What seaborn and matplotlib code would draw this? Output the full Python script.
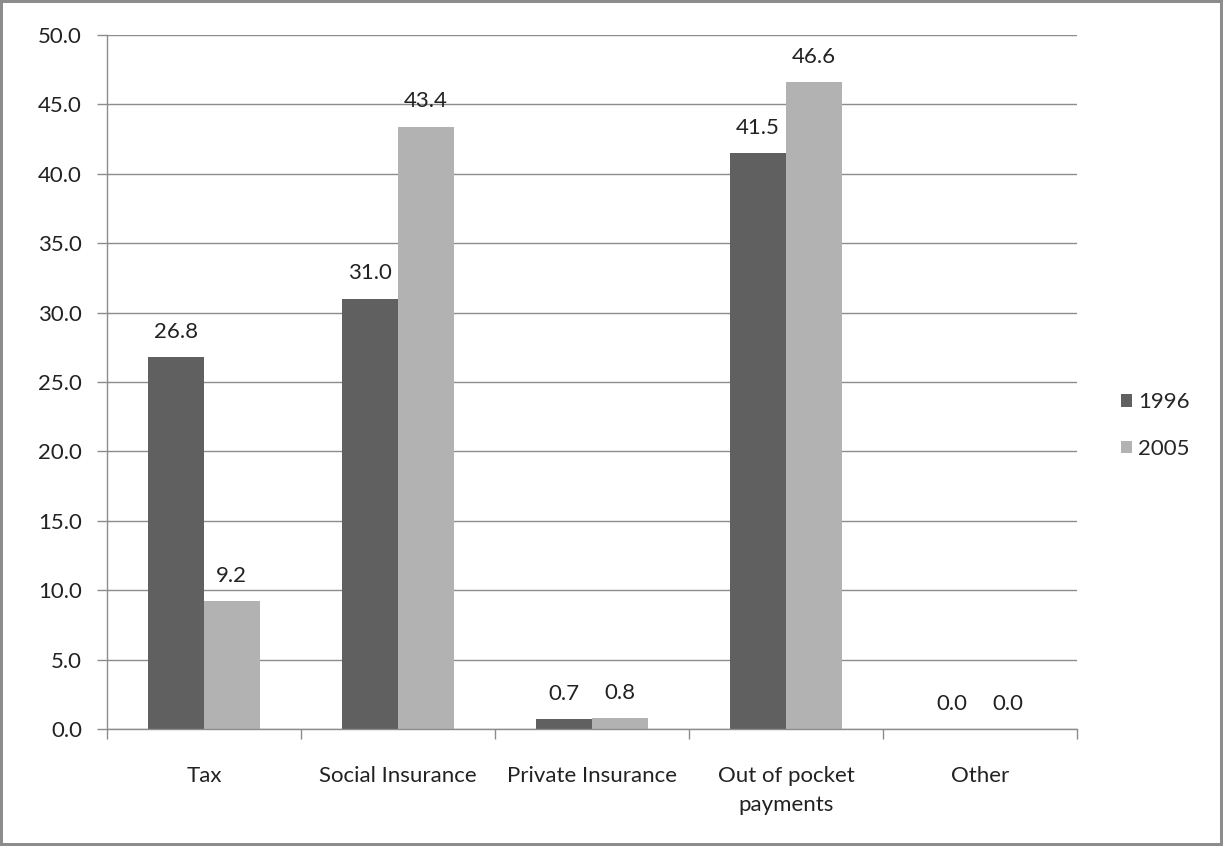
import pandas as pd
import matplotlib.pyplot as plt
import seaborn as sns
from matplotlib.ticker import MultipleLocator, FormatStrFormatter

categories = ["Tax", "Social Insurance", "Private Insurance", "Out of pocket\npayments", "Other"]
years = ["1996", "2005"]
values_1996 = [26.8, 31.0, 0.7, 41.5, 0.0]
values_2005 = [9.2, 43.4, 0.8, 46.6, 0.0]

data = pd.DataFrame(
    {
        "category": categories * 2,
        "year": [years[0]] * len(categories) + [years[1]] * len(categories),
        "value": values_1996 + values_2005,
    }
)

sns.set_theme(style="white")
plt.rcParams["font.family"] = ["Lato", "DejaVu Sans"]

fig = plt.figure(figsize=(12.23, 8.46), dpi=100)
fig.patch.set_edgecolor("#8c8c8c")
fig.patch.set_linewidth(4)
ax = fig.add_axes([0.0875, 0.1383, 0.7931, 0.8203])

sns.barplot(
    data=data,
    x="category",
    y="value",
    hue="year",
    palette=["#606060", "#b2b2b2"],
    width=0.573,
    saturation=1,
    linewidth=0,
    ax=ax,
)

for container in ax.containers:
    ax.bar_label(container, fmt="%.1f", padding=11, fontsize=16, color="#222222")

ax.set_ylim(0, 50)
ax.set_xlim(-0.5, len(categories) - 0.5)
ax.yaxis.set_major_locator(MultipleLocator(5))
ax.yaxis.set_major_formatter(FormatStrFormatter("%.1f"))
ax.grid(axis="y", color="#8c8c8c", linewidth=1)
ax.set_axisbelow(True)
ax.set_xlabel("")
ax.set_ylabel("")

for side in ["top", "right"]:
    ax.spines[side].set_visible(False)
for side in ["left", "bottom"]:
    ax.spines[side].set_color("#8c8c8c")
    ax.spines[side].set_linewidth(1)

# category boundary ticks on the x axis
ax.set_xticks([i for i in range(len(categories))])
ax.set_xticklabels(categories, fontsize=16, color="#222222", linespacing=1.55)
ax.set_xticks([i - 0.5 for i in range(len(categories) + 1)], minor=True)
ax.tick_params(axis="x", which="major", length=0, pad=27)
ax.tick_params(axis="x", which="minor", bottom=True, length=7, width=1, color="#8c8c8c")
ax.tick_params(axis="y", left=True, length=7, width=1, color="#8c8c8c", labelsize=16,
               labelcolor="#222222", pad=11)

handles, labels = ax.get_legend_handles_labels()
ax.get_legend().remove()
fig.legend(
    handles,
    labels,
    frameon=False,
    loc="center left",
    bbox_to_anchor=(0.9, 0.497),
    fontsize=16,
    handlelength=0.5,
    handleheight=0.5,
    handletextpad=0.3,
    labelspacing=1.2,
)

fig.savefig("out.png", dpi=100)
